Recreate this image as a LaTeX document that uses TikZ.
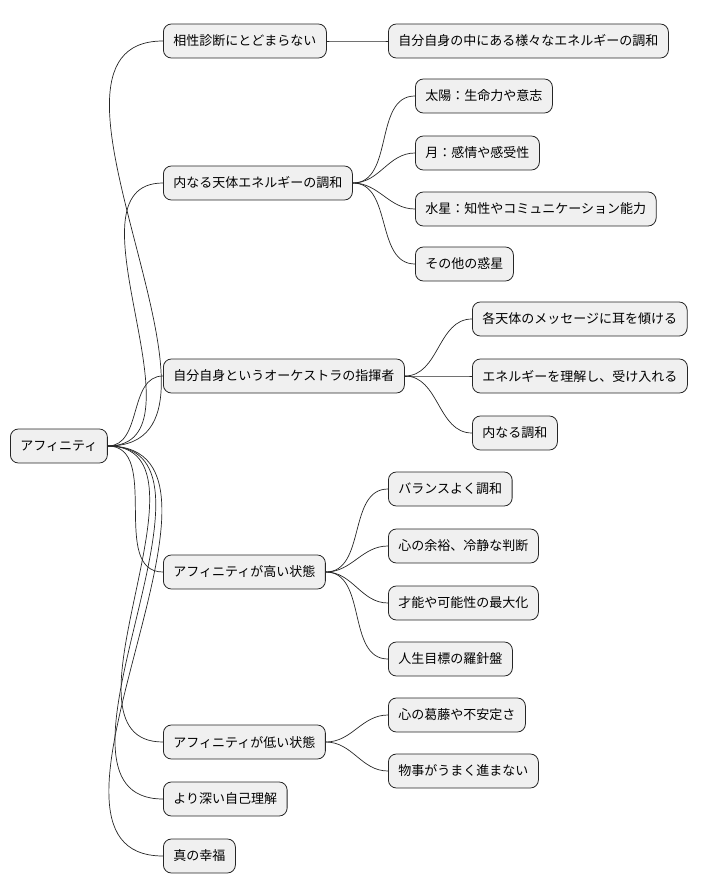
\documentclass[tikz,border=0pt]{standalone}
\usepackage{fontspec}
\newfontfamily\cjk{Noto Sans CJK JP}
\usetikzlibrary{positioning}
\begin{document}
\begin{tikzpicture}[x=1pt,y=1pt,
   topic/.style={draw=black!85,fill=black!6,rounded corners=8pt,line width=0.8pt,
     minimum height=34pt,inner xsep=10pt,anchor=west,font=\cjk\fontsize{13}{15}\selectfont},
   link/.style={draw=black!85,line width=0.7pt,out=0,in=180}]
   \useasboundingbox (0,0) rectangle (712,-893);
   \node[topic] (r) at (10,-446) {アフィニティ};
   % first level
   \node[topic] (a_1) at (163,-41)  {相性診断にとどまらない};
   \node[topic] (a_2) at (163,-183) {内なる天体エネルギーの調和};
   \node[topic] (a_3) at (163,-376) {自分自身というオーケストラの指揮者};
   \node[topic] (a_4) at (163,-572) {アフィニティが高い状態};
   \node[topic] (a_5) at (163,-742) {アフィニティが低い状態};
   \node[topic] (a_6) at (163,-799) {より深い自己理解};
   \node[topic] (a_7) at (163,-856) {真の幸福};
   % second level
   \node[topic] (b_1) at (388,-41)  {自分自身の中にある様々なエネルギーの調和};
   \node[topic] (b_2) at (415,-96)  {太陽：生命力や意志};
   \node[topic] (b_3) at (415,-153) {月：感情や感受性};
   \node[topic] (b_4) at (415,-209) {水星：知性やコミュニケーション能力};
   \node[topic] (b_5) at (415,-264) {その他の惑星};
   \node[topic] (b_6) at (472,-319) {各天体のメッセージに耳を傾ける};
   \node[topic] (b_7) at (472,-376) {エネルギーを理解し、受け入れる};
   \node[topic] (b_8) at (472,-433) {内なる調和};
   \node[topic] (b_9) at (388,-489) {バランスよく調和};
   \node[topic] (b_10) at (388,-546) {心の余裕、冷静な判断};
   \node[topic] (b_11) at (388,-603) {才能や可能性の最大化};
   \node[topic] (b_12) at (388,-659) {人生目標の羅針盤};
   \node[topic] (b_13) at (388,-715) {心の葛藤や不安定さ};
   \node[topic] (b_14) at (388,-771) {物事がうまく進まない};
   \path[link]
    (r.east) edge (a_1.west) edge (a_2.west) edge (a_3.west) edge (a_4.west)
             edge (a_5.west) edge (a_6.west) edge (a_7.west)
    (a_1.east) edge (b_1.west)
    (a_2.east) edge (b_2.west) edge (b_3.west) edge (b_4.west) edge (b_5.west)
    (a_3.east) edge (b_6.west) edge (b_7.west) edge (b_8.west)
    (a_4.east) edge (b_9.west) edge (b_10.west) edge (b_11.west) edge (b_12.west)
    (a_5.east) edge (b_13.west) edge (b_14.west);
\end{tikzpicture}
\end{document}
